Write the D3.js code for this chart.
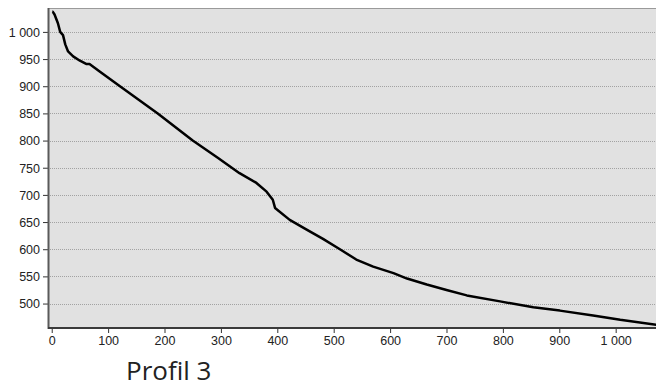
<!DOCTYPE html>
<html>
<head>
<meta charset="utf-8">
<script src="https://cdn.jsdelivr.net/npm/d3@7"></script>
<style>
  body { margin: 0; background: #fff; }
  svg { display: block; }
</style>
</head>
<body>
<div id="chart"></div>
<script>
// profile: distance (x) vs elevation (y)
const distance = [1, 2, 5, 11, 15, 20, 24, 29, 38, 50, 61, 67, 85, 121, 188, 250,
  295, 333, 363, 381, 392, 396, 422, 452, 481, 511, 540, 570, 606, 630, 665, 700,
  736, 795, 854, 901, 960, 1008, 1072];
const elevation = [1037, 1037, 1032, 1016, 1000, 994, 977, 964, 955, 947, 941, 941, 927, 900, 850, 800,
  768, 740, 722, 706, 691, 676, 654, 636, 619, 600, 581, 568, 556, 546, 535, 525,
  515, 504, 493, 487, 478, 470, 461];
const xTicks = [0, 100, 200, 300, 400, 500, 600, 700, 800, 900, 1000];
const yTicks = [500, 550, 600, 650, 700, 750, 800, 850, 900, 950, 1000];
const title = 'Profil 3';

const width = 656, height = 390;
const plot = { left: 48, top: 8, right: 656, bottom: 328 };

const svg = d3.select('#chart').append('svg')
  .attr('width', width)
  .attr('height', height);

const x = d3.scaleLinear()
  .domain([-6.6, 1071.5])
  .range([plot.left, plot.right]);

const y = d3.scaleLinear()
  .domain([455, 1044])
  .range([plot.bottom, plot.top]);

const fmt = d => d3.format(',')(d).replace(',', ' ');

// background
svg.append('rect')
  .attr('x', plot.left)
  .attr('y', plot.top)
  .attr('width', plot.right - plot.left)
  .attr('height', plot.bottom - plot.top)
  .attr('fill', '#e1e1e1');

// grid
svg.append('g')
  .selectAll('line')
  .data(yTicks)
  .join('line')
  .attr('x1', plot.left)
  .attr('x2', plot.right)
  .attr('y1', d => Math.round(y(d)) + 0.5)
  .attr('y2', d => Math.round(y(d)) + 0.5)
  .attr('stroke', '#a2a2a2')
  .attr('stroke-dasharray', '1,1');

// top border
svg.append('line')
  .attr('x1', plot.left).attr('x2', plot.right)
  .attr('y1', plot.top + 0.5).attr('y2', plot.top + 0.5)
  .attr('stroke', '#9a9a9a');

// axes
const yAxis = d3.axisLeft(y)
  .tickValues(yTicks)
  .tickSize(5)
  .tickPadding(3)
  .tickFormat(fmt);

const xAxis = d3.axisBottom(x)
  .tickValues(xTicks)
  .tickSize(5)
  .tickPadding(3)
  .tickFormat(fmt);

const gy = svg.append('g')
  .attr('transform', `translate(${plot.left},0)`)
  .call(yAxis);

const gx = svg.append('g')
  .attr('transform', `translate(0,${plot.bottom})`)
  .call(xAxis);

[gx, gy].forEach(g => {
  g.select('.domain').remove();
  g.selectAll('line').attr('stroke', '#333');
  g.selectAll('text')
    .attr('fill', '#222')
    .style('font-family', 'Liberation Sans, Arial, sans-serif')
    .style('font-size', '12.5px');
});
gy.selectAll('.tick text').attr('dy', '0.35em');

// axis lines
svg.append('line')
  .attr('x1', plot.left + 0.5).attr('x2', plot.left + 0.5)
  .attr('y1', plot.top).attr('y2', plot.bottom + 1)
  .attr('stroke', '#5a5a5a').attr('stroke-width', 2);
svg.append('line')
  .attr('x1', plot.left).attr('x2', plot.right)
  .attr('y1', plot.bottom).attr('y2', plot.bottom)
  .attr('stroke', '#3a3a3a').attr('stroke-width', 2);

// profile line
const line = d3.line()
  .x((d, i) => x(distance[i]))
  .y(d => y(d));

svg.append('path')
  .datum(elevation)
  .attr('d', line)
  .attr('fill', 'none')
  .attr('stroke', '#000')
  .attr('stroke-width', 2.5)
  .attr('stroke-linejoin', 'round');

// title
svg.append('text')
  .attr('x', 126)
  .attr('y', 380)
  .attr('fill', '#222')
  .style('font-family', 'Open Sans, sans-serif')
  .style('font-size', '26px')
  .text(title);
</script>
</body>
</html>
